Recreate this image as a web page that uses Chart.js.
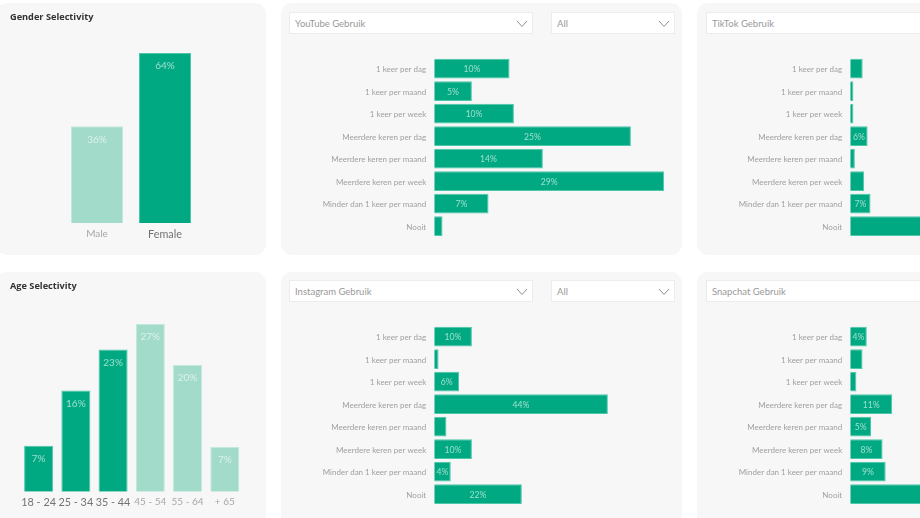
<!DOCTYPE html>
<html lang="nl">
<head>
<meta charset="utf-8">
<title>Selectivity</title>
<script src="https://cdn.jsdelivr.net/npm/chart.js@4"></script>
<style>
  html, body { margin: 0; padding: 0; background: #fff; overflow: hidden; width: 920px; height: 518px; }
  #dash { position: absolute; left: 0; top: 0; width: 920px; height: 518px; overflow: hidden; filter: blur(0.5px); font-family: Lato, sans-serif; }
  .card { position: absolute; background: #f7f7f7; border-radius: 11px; }
  .title { position: absolute; left: 10px; font-family: "Open Sans", sans-serif; font-size: 9.2px; font-weight: 700; color: #333; }
  .drop { position: absolute; background: #fff; border: 1px solid #ececec; box-sizing: border-box; height: 22px; line-height: 22px; padding-left: 5px; font-size: 9.5px; color: #999; }
  .drop svg { position: absolute; right: 4px; top: 7px; }
  canvas { position: absolute; }
</style>
</head>
<body>
<div id="dash">
  <div class="card" style="left:-4px;top:3px;width:270px;height:252px"></div>
  <div class="card" style="left:281px;top:3px;width:401px;height:252px"></div>
  <div class="card" style="left:697px;top:3px;width:300px;height:252px"></div>
  <div class="card" style="left:-4px;top:272px;width:270px;height:260px"></div>
  <div class="card" style="left:281px;top:272px;width:401px;height:260px"></div>
  <div class="card" style="left:697px;top:272px;width:300px;height:260px"></div>

  <div class="title" style="top:10px">Gender Selectivity</div>
  <div class="title" style="top:279px">Age Selectivity</div>

  <div class="drop" style="left:289px;top:12px;width:244px">YouTube Gebruik<svg width="12" height="8"><path d="M1 1 L6 6.5 L11 1" fill="none" stroke="#909090"/></svg></div>
  <div class="drop" style="left:551px;top:12px;width:124px">All<svg width="12" height="8"><path d="M1 1 L6 6.5 L11 1" fill="none" stroke="#909090"/></svg></div>
  <div class="drop" style="left:706px;top:12px;width:300px">TikTok Gebruik</div>
  <div class="drop" style="left:289px;top:280px;width:244px">Instagram Gebruik<svg width="12" height="8"><path d="M1 1 L6 6.5 L11 1" fill="none" stroke="#909090"/></svg></div>
  <div class="drop" style="left:551px;top:280px;width:124px">All<svg width="12" height="8"><path d="M1 1 L6 6.5 L11 1" fill="none" stroke="#909090"/></svg></div>
  <div class="drop" style="left:706px;top:280px;width:300px">Snapchat Gebruik</div>

  <canvas id="gender" style="left:0;top:40px" width="265" height="210"></canvas>
  <canvas id="age" style="left:0;top:310px" width="265" height="205"></canvas>
  <canvas id="youtube" style="left:281px;top:50px" width="400" height="195"></canvas>
  <canvas id="tiktok" style="left:697px;top:50px" width="400" height="195"></canvas>
  <canvas id="instagram" style="left:281px;top:318px" width="400" height="195"></canvas>
  <canvas id="snapchat" style="left:697px;top:318px" width="400" height="195"></canvas>
</div>

<script>
// labels
const genderLabels = ["Male", "Female"];
const ageLabels = ["18 - 24", "25 - 34", "35 - 44", "45 - 54", "55 - 64", "+ 65"];
const usageLabels = [
    "1 keer per dag", "1 keer per maand", "1 keer per week", "Meerdere keren per dag",
    "Meerdere keren per maand", "Meerdere keren per week", "Minder dan 1 keer per maand", "Nooit"
];

// values, in percent
const genderValues = [36.4, 64];
const ageValues = [7.4, 16.3, 22.9, 27, 20.4, 7.2];
const youtubeValues = [9.5, 4.75, 10.05, 24.8, 13.7, 29, 6.85, 1.05];
const tiktokValues = [4.3, 1.1, 1.1, 6, 1.6, 4.8, 7, 74];
const instagramValues = [9.55, 1.1, 6.3, 44, 3.1, 9.55, 4.2, 22.2];
const snapchatValues = [4.3, 3.2, 1.6, 10.9, 5.4, 8.4, 9.2, 56.8];

const GREEN = "#01a982";
const PALE = "#a3dbcb";
const FONT = "Lato, sans-serif";

Chart.defaults.animation = false;
Chart.defaults.responsive = false;
Chart.defaults.devicePixelRatio = 1;

// percentages inside the bars, only where the bar is wide enough
const barLabels = {
    id: "barLabels",
    afterDatasetsDraw(chart) {
        const ctx = chart.ctx;
        const horizontal = chart.options.indexAxis === "y";
        const values = chart.data.datasets[0].data;
        ctx.save();
        ctx.textAlign = "center";
        ctx.textBaseline = "middle";
        ctx.fillStyle = "rgba(255,255,255,0.62)";
        ctx.font = (horizontal ? "8.6px " : "10px ") + FONT;
        chart.getDatasetMeta(0).data.forEach((bar, i) => {
            const text = Math.round(values[i]) + "%";
            if (horizontal) {
                if (bar.x - bar.base >= 15) ctx.fillText(text, (bar.x + bar.base) / 2, bar.y + 1);
            } else {
                ctx.fillText(text, bar.x, bar.y + 13);
            }
        });
        ctx.restore();
    }
};

// Vertical chart: the selected categories are dark, the others pale
const columnChart = (id, labels, values, selected, pad, ratio, tickGap) => {
    new Chart(document.getElementById(id), {
        type: "bar",
        plugins: [barLabels],
        data: {
            labels: labels,
            datasets: [{
                data: values,
                backgroundColor: labels.map(l => selected.includes(l) ? GREEN : PALE),
                borderColor: labels.map(l => selected.includes(l) ? "#4cc7a8" : "#c3e8dd"),
                borderWidth: 1,
                barPercentage: ratio,
                categoryPercentage: 1
            }]
        },
        options: {
            layout: { padding: pad },
            plugins: { legend: { display: false }, tooltip: { enabled: false } },
            scales: {
                x: {
                    grid: { display: false, drawTicks: false },
                    border: { display: false },
                    afterFit: s => { s.height = pad.axis; },
                    ticks: {
                        padding: tickGap,
                        maxRotation: 0,
                        autoSkip: false,
                        font: ctx => ({ family: FONT, size: selected.includes(labels[ctx.index]) ? 10.8 : 10 }),
                        color: ctx => selected.includes(labels[ctx.index]) ? "#737373" : "#a8a8a8"
                    }
                },
                y: { display: false, min: 0, max: Math.max(...values) }
            }
        }
    });
};

// Horizontal usage chart, same axis column in every panel
const usageChart = (id, values, max, right) => {
    new Chart(document.getElementById(id), {
        type: "bar",
        plugins: [barLabels],
        data: {
            labels: usageLabels,
            datasets: [{
                data: values,
                backgroundColor: GREEN,
                borderColor: "#4cc7a8",
                borderWidth: 1,
                barPercentage: 0.875,
                categoryPercentage: 1
            }]
        },
        options: {
            indexAxis: "y",
            layout: { padding: { top: 7.4, bottom: 7.6, right: right } },
            plugins: { legend: { display: false }, tooltip: { enabled: false } },
            scales: {
                x: { display: false, min: 0, max: max },
                y: {
                    grid: { display: false, drawTicks: false },
                    border: { display: false },
                    afterFit: s => {
                        s.width = 153.2;
                        s.paddingTop = 0;
                        s.paddingBottom = 0;
                    },
                    ticks: {
                        padding: 8,
                        labelOffset: 1,
                        autoSkip: false,
                        font: { family: FONT, size: 8 },
                        color: "#a0a0a0"
                    }
                }
            }
        }
    });
};

columnChart("gender", genderLabels, genderValues, ["Female"], { left: 63, right: 66, top: 13, bottom: 0, axis: 27 }, 0.765, 5);
columnChart("age", ageLabels, ageValues, ["18 - 24", "25 - 34", "35 - 44"], { left: 20, right: 21.6, top: 14, bottom: 0, axis: 23.3 }, 0.78, 4);

usageChart("youtube", youtubeValues, 29, 16.8);
usageChart("tiktok", tiktokValues, 85, 0);
usageChart("instagram", instagramValues, 44, 73.1);
usageChart("snapchat", snapchatValues, 64, 0);
</script>
</body>
</html>
